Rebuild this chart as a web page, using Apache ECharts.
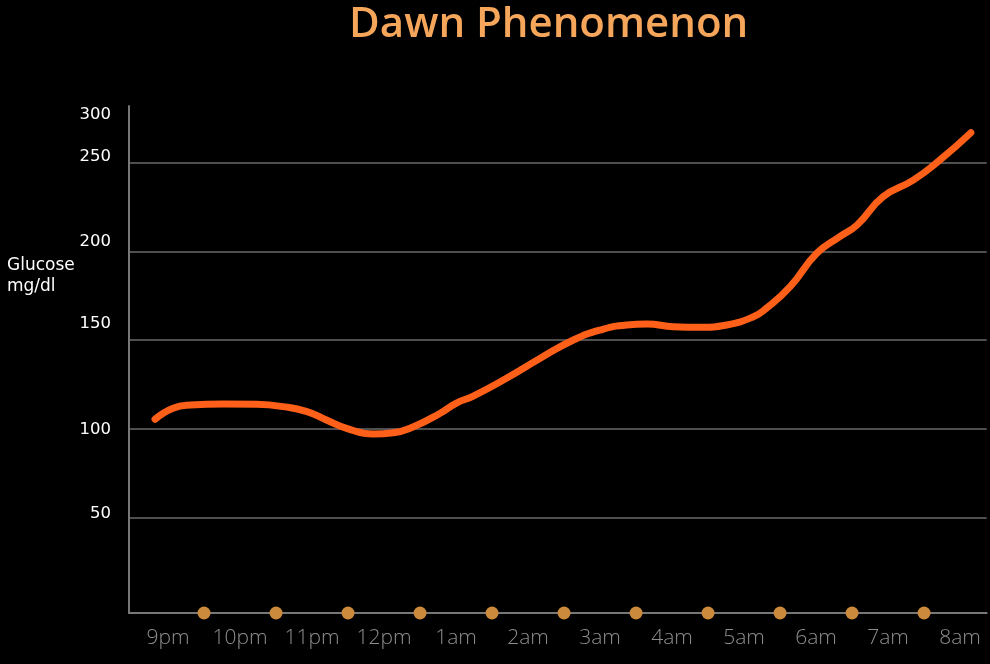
<!DOCTYPE html>
<html><head><meta charset="utf-8">
<script src="https://cdn.jsdelivr.net/npm/echarts@6/dist/echarts.min.js"></script>
<style>html,body{margin:0;padding:0;background:#000}#c{width:990px;height:664px}</style>
</head><body><div id="c"></div>
<script>
// Time labels (x axis) and their positions in hours after 9pm
const xLabels = ['9pm','10pm','11pm','12pm','1am','2am','3am','4am','5am','6am','7am','8am'];
const labelHours = [0,1,2,3,4,5,6,7,8,9,10,11];
// Glucose curve: hours after 9pm and glucose mg/dl
const hours   = [-0.18, 0.07, 0.31, 0.77, 1.23, 1.60, 1.93, 2.20, 2.48, 2.85, 3.13, 3.41, 3.78, 4.00, 4.24, 4.70, 5.17, 5.63, 6.00, 6.37, 6.65, 7.02, 7.39, 7.76, 8.13, 8.31, 8.64, 9.01, 9.33, 9.57, 9.93, 10.35, 10.72, 11.15];
const glucose = [105.3, 111.5, 113.3, 113.9, 113.7, 112.4, 109.6, 104.9, 100.2, 97.0, 97.7, 101.1, 108.7, 114.3, 118.4, 128.4, 139.7, 150.0, 155.6, 158.5, 159.0, 157.5, 157.2, 158.5, 163.1, 167.9, 180.1, 198.9, 208.3, 214.9, 230.8, 240.2, 251.5, 266.9];
// Marker dots on the time axis (between hour labels)
const dotHours = [0.5,1.5,2.5,3.5,4.5,5.5,6.5,7.5,8.5,9.5,10.5];
// Y axis
const yGridValues = [50,100,150,200,250];
const yTickLabels = ['50','100','150','200','250','300'];
const yMin = -4, yMax = 282;
const xMin = -0.542, xMax = 11.37;

const yLabelValues = yGridValues.concat([yMax]);
const labelFont = 'DejaVu Sans';
// label style name per label slot (vertical nudges relative to the grid line)
const yLabelStyles = ['s4', 'c', 's16', 's10', 's6', 't'];
const baseRich = { color: '#fff', fontSize: 16.5, fontFamily: labelFont };

const chart = echarts.init(document.getElementById('c'));
chart.setOption({
  backgroundColor: '#000',
  animation: false,
  title: [
    { text: 'Dawn Phenomenon', left: 349, top: 4, padding: 0,
      textStyle: { color: '#f6a65b', fontSize: 42, fontWeight: 600, fontFamily: 'Open Sans' } },
    { text: 'Glucose\nmg/dl', left: 2, top: 250,
      textStyle: { color: '#fff', fontSize: 17, fontWeight: 'normal', fontFamily: labelFont, lineHeight: 21 } }
  ],
  grid: { left: 129, right: 3.3, top: 106, bottom: 51, containLabel: false },
  xAxis: {
    type: 'value', min: xMin, max: xMax,
    axisLine: { show: true, onZero: false, lineStyle: { color: '#777', width: 2 } },
    axisTick: { show: false },
    splitLine: { show: false },
    axisLabel: {
      customValues: labelHours,
      formatter: v => xLabels[labelHours.indexOf(Math.round(v))] || '',
      color: '#8e8e8e', fontSize: 21, fontWeight: 300, fontFamily: 'Open Sans', margin: 15
    }
  },
  yAxis: {
    type: 'value', min: yMin, max: yMax,
    axisLine: { show: true, onZero: false, lineStyle: { color: '#777', width: 2 } },
    axisTick: { show: false, customValues: yGridValues },
    splitLine: { show: true, lineStyle: { color: '#6a6a6a', width: 1.5 } },
    axisLabel: {
      customValues: yLabelValues,
      showMaxLabel: true, showMinLabel: true, hideOverlap: false,
      margin: 18, color: '#fff', fontSize: 16.5, fontFamily: labelFont,
      formatter: v => {
        const i = yLabelValues.indexOf(v);
        return '{' + yLabelStyles[i] + '|' + yTickLabels[i] + '}';
      },
      rich: {
        c:   Object.assign({}, baseRich, { padding: [2,0,0,0] }),
        s4:  Object.assign({}, baseRich, { padding: [0,0,8,0] }),
        s6:  Object.assign({}, baseRich, { padding: [0,0,12,0] }),
        s10: Object.assign({}, baseRich, { padding: [0,0,20,0] }),
        s16: Object.assign({}, baseRich, { padding: [0,0,32,0] }),
        t:   Object.assign({}, baseRich, { padding: [18,0,0,0] })
      }
    }
  },
  series: [
    {
      type: 'line', smooth: 0.5, showSymbol: false, symbol: 'none',
      data: hours.map((h, i) => [h, glucose[i]]),
      lineStyle: { color: '#fe5f19', width: 7, cap: 'round', join: 'round' },
      z: 3
    },
    {
      type: 'scatter', clip: false, symbol: 'circle', symbolSize: 13,
      data: dotHours.map(h => [h, yMin]),
      itemStyle: { color: '#cc8a3c', opacity: 1 },
      z: 4
    }
  ]
});
</script></body></html>
